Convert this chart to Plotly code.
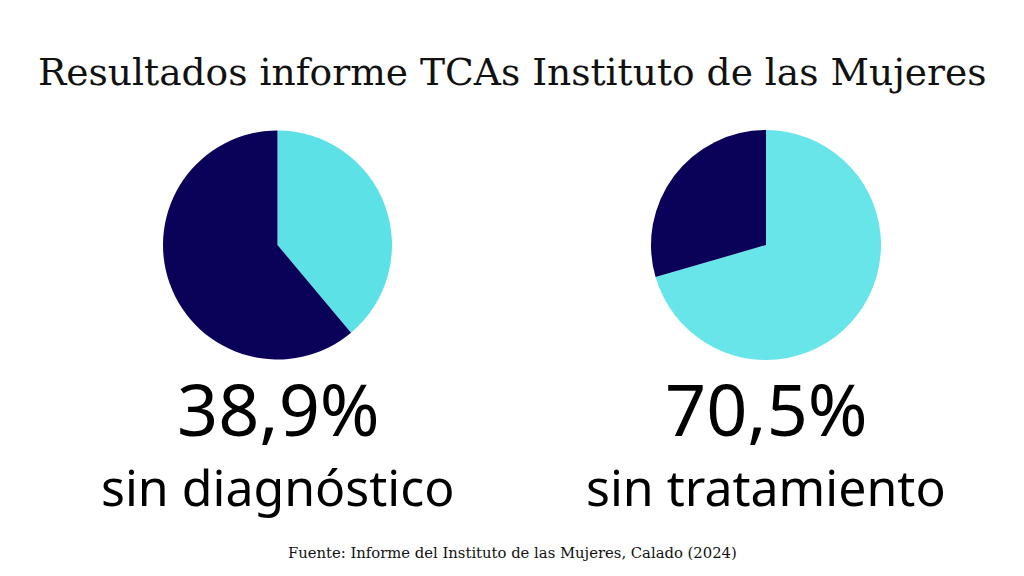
import plotly.graph_objects as go

# data
pie_labels = ["sin", "con"]
diag_values = [38.9, 61.1]
trat_values = [70.5, 29.5]
big_numbers = ["38,9%", "70,5%"]
captions = ["sin diagnóstico", "sin tratamiento"]

dark = "#0a0259"
cyan1 = "#5ce1e6"
cyan2 = "#68e5e9"

W, H, OFF = 1024, 576, 8  # page body margin shifts the plot by 8px


def fx(px):
    return (px - OFF) / W


def fy(py):
    return 1 - (py - OFF) / H


fig = go.Figure()

for vals, cyan, (x0, x1) in [(diag_values, cyan1, (163, 392)), (trat_values, cyan2, (651, 881))]:
    fig.add_trace(go.Pie(
        labels=pie_labels, values=vals, sort=False, direction="clockwise",
        rotation=0, textinfo="none", hoverinfo="label+percent",
        marker=dict(colors=[cyan, dark], line=dict(width=0)),
        domain=dict(x=[fx(x0), fx(x1)], y=[fy(360), fy(130)]),
        showlegend=False,
    ))

annotations = [
    dict(text="Resultados informe TCAs Instituto de las Mujeres", x=fx(512), y=fy(72),
         font=dict(family="DejaVu Serif", size=37.6, color="#111111")),
    dict(text="Fuente: Informe del Instituto de las Mujeres, Calado (2024)", x=fx(512), y=fy(552),
         font=dict(family="DejaVu Serif", size=14.8, color="#111111")),
]
for cx, num, cap in zip([278, 766], big_numbers, captions):
    annotations.append(dict(text=num, x=fx(cx), y=fy(408),
                            font=dict(family="Noto Sans", size=72, color="#000000")))
    annotations.append(dict(text=cap, x=fx(cx), y=fy(487),
                            font=dict(family="Noto Sans", size=50, color="#000000")))
for a in annotations:
    a.update(xref="paper", yref="paper", showarrow=False, xanchor="center", yanchor="middle")

fig.update_layout(
    width=W, height=H,
    margin=dict(l=0, r=0, t=0, b=0),
    paper_bgcolor="white", plot_bgcolor="white",
    annotations=annotations,
)

fig.write_html("out.html")
